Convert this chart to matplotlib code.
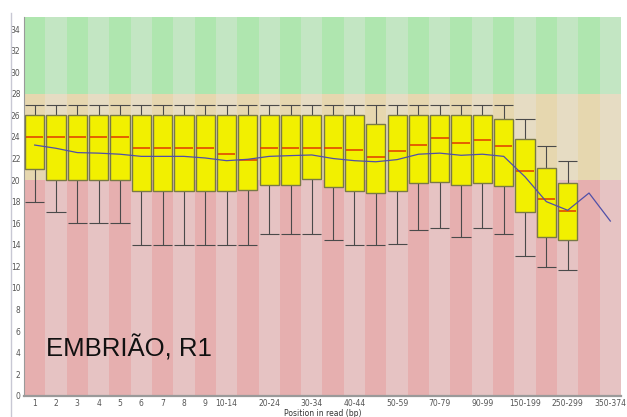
import matplotlib
matplotlib.use("Agg")
import matplotlib.pyplot as plt
from matplotlib.lines import Line2D
import numpy as np

# position groups along the read
positions = ["1", "2", "3", "4", "5", "6", "7", "8", "9", "10-14", "15-19",
             "20-24", "25-29", "30-34", "35-39", "40-44", "45-49", "50-59",
             "60-69", "70-79", "80-89", "90-99", "100-149", "150-199",
             "200-249", "250-299", "300-349", "350-374"]

# box plot stats (only the first 26 positions have boxes)
p90 = [27, 27, 27, 27, 27, 27, 27, 27, 27, 27, 27, 27, 27, 27, 27, 27, 27,
       27, 27, 27, 27, 27, 27, 25.7, 23.2, 21.8]
q3 = [26, 26, 26, 26, 26, 26, 26, 26, 26, 26, 26, 26, 26, 26, 26, 26, 25.2,
      26, 26, 26, 26, 26, 25.7, 23.85, 21.1, 19.7]
median = [24, 24, 24, 24, 24, 23, 23, 23, 23, 22.4, 21.9, 23, 23, 23, 23,
          22.8, 22.1, 22.7, 23.3, 23.9, 23.4, 23.75, 23.2, 20.8, 18.25, 17.1]
q1 = [21, 20, 20, 20, 20, 19, 19, 19, 19, 19, 19.1, 19.5, 19.5, 20.1, 19.4,
      19.0, 18.8, 19.0, 19.7, 19.8, 19.5, 19.7, 19.45, 17.0, 14.7, 14.4]
p10 = [18, 17, 16, 16, 16, 14, 14, 14, 14, 14, 14, 15, 15, 15, 14.4, 14.0,
       14.0, 14.1, 15.4, 15.6, 14.7, 15.6, 15.0, 13.0, 11.95, 11.7]
mean = [23.25, 22.95, 22.55, 22.5, 22.4, 22.2, 22.2, 22.2, 22.05, 21.8, 21.93,
        22.2, 22.27, 22.33, 22.0, 21.8, 21.7, 21.9, 22.4, 22.5, 22.3, 22.4,
        22.2, 20.3, 18.0, 17.2, 18.8, 16.2]

y_max = 35.1
band_edges = [0, 20, 28, y_max]
band_dark = ["#e6afaf", "#e6d7af", "#afe6af"]
band_light = ["#e6c3c3", "#e6dcc3", "#c3e6c3"]

fig = plt.figure(figsize=(6.27, 4.17), dpi=100)
ax = fig.add_axes([24 / 627, 21.3 / 417, 597 / 627, 378.4 / 417])

n = len(positions)
x_all = np.arange(n)

# striped quality bands
for i in range(n):
    colors = band_dark if i % 2 == 0 else band_light
    for b in range(3):
        ax.bar(i, band_edges[b + 1] - band_edges[b], bottom=band_edges[b],
               width=1.0, color=colors[b], linewidth=0, zorder=0)

nb = len(q3)
xb = np.arange(nb)
w = 0.9
whisk_col = "#4a4a4a"

ax.vlines(xb, p10, q1, color=whisk_col, lw=0.8, zorder=2)
ax.vlines(xb, q3, p90, color=whisk_col, lw=0.8, zorder=2)
ax.hlines(p10, xb - w / 2, xb + w / 2, color=whisk_col, lw=0.8, zorder=2)
ax.hlines(p90, xb - w / 2, xb + w / 2, color=whisk_col, lw=0.8, zorder=2)

ax.bar(xb, np.array(q3) - np.array(q1), bottom=q1, width=w, color="#f2f000",
       edgecolor="#7a7a45", linewidth=1.0, zorder=3)
ax.hlines(median, xb - w / 2 + 0.04, xb + w / 2 - 0.04, color="#e03a00",
          lw=1.1, zorder=4)

ax.plot(x_all, mean, color="#5050a8", lw=0.9, zorder=5)

ax.set_xlim(-0.5, n - 0.5)
ax.set_ylim(0, y_max)
ax.set_yticks(np.arange(0, 35, 2))
ax.set_xticks(x_all)
ax.set_xticklabels([lab if (i < 9 or i % 2 == 1) else "" for i, lab in enumerate(positions)])
ax.tick_params(axis="both", labelsize=5.5, labelcolor="#555555", length=0, pad=2.5)

for s in ["top", "right"]:
    ax.spines[s].set_visible(False)
ax.spines["left"].set_color("#9a9a9a")
ax.spines["bottom"].set_color("#9a9a9a")
ax.spines["bottom"].set_linewidth(1.6)

ax.set_xlabel("Position in read (bp)", fontsize=5.5, color="#333333", labelpad=0.5)

fig.text(46 / 627, (417 - 357) / 417, "EMBRIÃO, R1", fontsize=18.5,
         family="Liberation Sans", color="#111111", va="baseline")

fig.add_artist(Line2D([10.5 / 627, 10.5 / 627], [0, (417 - 13) / 417],
                      color="#c8c8d4", lw=1.0))

fig.savefig("out.png", dpi=100)
